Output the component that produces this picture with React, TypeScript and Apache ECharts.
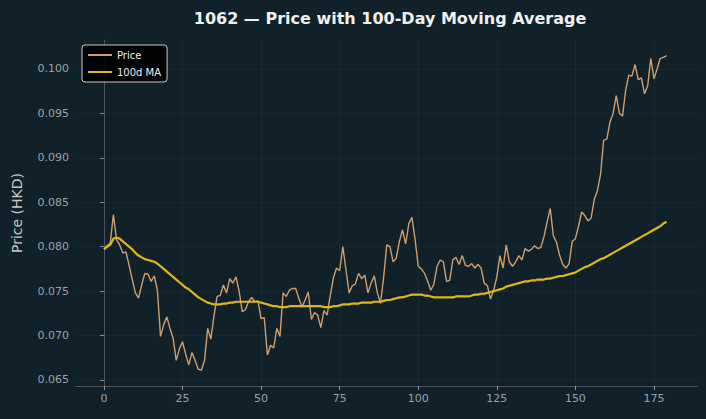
import React, { useEffect, useRef } from "react";
import * as echarts from "echarts";

// Daily closing price of 1062 (HKD), one value per trading day.
const price: number[] = [
  0.0798, 0.0801, 0.0804, 0.0836, 0.0808, 0.0802, 0.0793, 0.0794, 0.0779, 0.0763,
  0.0748, 0.0742, 0.0757, 0.0770, 0.0769, 0.0761, 0.0767, 0.0751, 0.0699, 0.0712,
  0.0721, 0.0708, 0.0697, 0.0672, 0.0685, 0.0693, 0.0679, 0.0667, 0.0681, 0.0672,
  0.0662, 0.0661, 0.0672, 0.0708, 0.0696, 0.0722, 0.0744, 0.0745, 0.0757, 0.0748,
  0.0764, 0.0759, 0.0766, 0.0750, 0.0727, 0.0729, 0.0738, 0.0743, 0.0738, 0.0739,
  0.0719, 0.0720, 0.0678, 0.0689, 0.0686, 0.0708, 0.0699, 0.0748, 0.0744, 0.0751,
  0.0753, 0.0753, 0.0742, 0.0732, 0.0740, 0.0749, 0.0718, 0.0726, 0.0723, 0.0709,
  0.0728, 0.0723, 0.0745, 0.0765, 0.0776, 0.0773, 0.0800, 0.0774, 0.0748, 0.0756,
  0.0758, 0.0770, 0.0764, 0.0768, 0.0748, 0.0759, 0.0767, 0.0748, 0.0736, 0.0766,
  0.0802, 0.0800, 0.0783, 0.0787, 0.0806, 0.0819, 0.0803, 0.0826, 0.0833, 0.0808,
  0.0778, 0.0775, 0.0770, 0.0761, 0.0751, 0.0758, 0.0778, 0.0785, 0.0783, 0.0761,
  0.0762, 0.0785, 0.0788, 0.0780, 0.0790, 0.0779, 0.0778, 0.0781, 0.0776, 0.0780,
  0.0776, 0.0759, 0.0756, 0.0741, 0.0751, 0.0766, 0.0790, 0.0776, 0.0802, 0.0783,
  0.0778, 0.0783, 0.0790, 0.0785, 0.0798, 0.0795, 0.0797, 0.0801, 0.0798, 0.0799,
  0.0811, 0.0828, 0.0843, 0.0812, 0.0805, 0.0790, 0.0780, 0.0776, 0.0781, 0.0806,
  0.0809, 0.0823, 0.0839, 0.0835, 0.0829, 0.0832, 0.0853, 0.0863, 0.0881, 0.0920,
  0.0921, 0.0940, 0.0950, 0.0970, 0.0950, 0.0947, 0.0976, 0.0993, 0.0992, 0.1005,
  0.0988, 0.0990, 0.0972, 0.0981, 0.1012, 0.0989, 0.1000, 0.1012, 0.1013, 0.1015,
];

// 100-day moving average of the closing price.
const movingAverage: number[] = [
  0.0797, 0.0800, 0.0802, 0.0809, 0.0810, 0.0809, 0.0806, 0.0803, 0.0800, 0.0797,
  0.0793, 0.0790, 0.0788, 0.0786, 0.0785, 0.0784, 0.0783, 0.0781, 0.0778, 0.0775,
  0.0772, 0.0769, 0.0766, 0.0763, 0.0760, 0.0757, 0.0754, 0.0752, 0.0749, 0.0746,
  0.0743, 0.0741, 0.0739, 0.0737, 0.0736, 0.0735, 0.0735, 0.0735, 0.0736, 0.0736,
  0.0737, 0.0737, 0.0738, 0.0738, 0.0738, 0.0738, 0.0738, 0.0738, 0.0738, 0.0738,
  0.0737, 0.0736, 0.0735, 0.0734, 0.0733, 0.0733, 0.0732, 0.0732, 0.0732, 0.0733,
  0.0733, 0.0733, 0.0733, 0.0733, 0.0733, 0.0733, 0.0733, 0.0733, 0.0733, 0.0733,
  0.0732, 0.0732, 0.0732, 0.0733, 0.0733, 0.0734, 0.0735, 0.0735, 0.0735, 0.0736,
  0.0736, 0.0736, 0.0737, 0.0737, 0.0737, 0.0737, 0.0738, 0.0738, 0.0738, 0.0739,
  0.0740, 0.0740, 0.0741, 0.0742, 0.0743, 0.0743, 0.0744, 0.0745, 0.0746, 0.0746,
  0.0746, 0.0746, 0.0745, 0.0745, 0.0744, 0.0743, 0.0743, 0.0743, 0.0743, 0.0743,
  0.0743, 0.0743, 0.0744, 0.0744, 0.0744, 0.0744, 0.0744, 0.0745, 0.0746, 0.0746,
  0.0747, 0.0747, 0.0748, 0.0749, 0.0750, 0.0751, 0.0752, 0.0753, 0.0755, 0.0756,
  0.0757, 0.0758, 0.0759, 0.0760, 0.0761, 0.0761, 0.0762, 0.0762, 0.0763, 0.0763,
  0.0763, 0.0764, 0.0764, 0.0765, 0.0766, 0.0767, 0.0767, 0.0768, 0.0769, 0.0770,
  0.0771, 0.0773, 0.0775, 0.0777, 0.0778, 0.0780, 0.0782, 0.0784, 0.0786, 0.0787,
  0.0789, 0.0791, 0.0793, 0.0795, 0.0797, 0.0799, 0.0801, 0.0803, 0.0805, 0.0807,
  0.0809, 0.0811, 0.0813, 0.0815, 0.0817, 0.0819, 0.0821, 0.0823, 0.0826, 0.0828,
];

const xTicks: number[] = [0, 25, 50, 75, 100, 125, 150, 175];
const yTicks: number[] = [0.065, 0.07, 0.075, 0.08, 0.085, 0.09, 0.095, 0.1];

const TITLE = "1062 — Price with 100-Day Moving Average";
const FONT = "DejaVu Sans, Noto Sans, sans-serif";
const BG = "#10212a";
const PRICE_COLOR = "#cf9e6c";
const MA_COLOR = "#dfb71c";

export default function App() {
  const ref = useRef<HTMLDivElement>(null);

  useEffect(() => {
    if (!ref.current) return;
    const chart = echarts.init(ref.current, undefined, { renderer: "svg" });

    const priceData = price.map((v, i) => [i, v]);
    const maData = movingAverage.map((v, i) => [i, v]);

    chart.setOption({
      animation: false,
      backgroundColor: BG,
      textStyle: { fontFamily: FONT },
      graphic: [
        {
          type: "text",
          x: 390,
          y: 18,
          style: {
            text: TITLE,
            fill: "#f0f0f0",
            font: `bold 16px ${FONT}`,
            textAlign: "center",
            textVerticalAlign: "middle",
          },
        },
      ],
      legend: {
        left: 82,
        top: 45,
        orient: "vertical",
        backgroundColor: "rgba(0,0,0,0.9)",
        borderColor: "#c8c8c8",
        borderWidth: 1,
        borderRadius: 3,
        padding: [5, 6, 5, 6],
        icon: "rect",
        itemWidth: 24,
        itemHeight: 2,
        itemGap: 7,
        textStyle: { color: "#eeeeee", fontSize: 10, fontFamily: FONT },
        data: [
          { name: "Price", itemStyle: { color: PRICE_COLOR } },
          { name: "100d MA", itemStyle: { color: MA_COLOR } },
        ],
      },
      grid: { left: 76, right: 9, top: 40, bottom: 33, containLabel: false },
      xAxis: {
        type: "value",
        min: -8.9,
        max: 188.7,
        axisLine: { show: true, lineStyle: { color: "#4d565b", width: 1 } },
        axisTick: {
          show: true,
          customValues: xTicks,
          length: 4,
          lineStyle: { color: "#8a9196" },
        },
        axisLabel: {
          customValues: xTicks,
          color: "#9ca3a8",
          fontSize: 11,
          margin: 7,
          fontFamily: FONT,
        },
        splitLine: {
          show: true,
          lineStyle: { color: "rgba(255,255,255,0.035)", width: 1 },
        },
      },
      yAxis: {
        type: "value",
        min: 0.06432,
        max: 0.10326,
        name: "Price (HKD)",
        nameLocation: "middle",
        nameGap: 52,
        nameTextStyle: { color: "#c4c8cb", fontSize: 14, fontFamily: FONT },
        axisLine: { show: true, lineStyle: { color: "#4d565b", width: 1 } },
        axisTick: {
          show: true,
          customValues: yTicks,
          length: 4,
          lineStyle: { color: "#8a9196" },
        },
        axisLabel: {
          customValues: yTicks,
          color: "#9ca3a8",
          fontSize: 11,
          margin: 7,
          fontFamily: FONT,
          formatter: (v: number) => v.toFixed(3),
        },
        splitLine: {
          show: true,
          lineStyle: { color: "rgba(255,255,255,0.035)", width: 1 },
        },
      },
      series: [
        {
          name: "Price",
          type: "line",
          data: priceData,
          symbol: "none",
          showSymbol: false,
          lineStyle: { color: PRICE_COLOR, width: 1.4 },
          itemStyle: { color: PRICE_COLOR },
        },
        {
          name: "100d MA",
          type: "line",
          data: maData,
          symbol: "none",
          showSymbol: false,
          lineStyle: { color: MA_COLOR, width: 2.2 },
          itemStyle: { color: MA_COLOR },
        },
      ],
    });

    return () => chart.dispose();
  }, []);

  return (
    <div
      ref={ref}
      style={{ position: "fixed", left: 0, top: 0, width: 706, height: 419 }}
    />
  );
}
